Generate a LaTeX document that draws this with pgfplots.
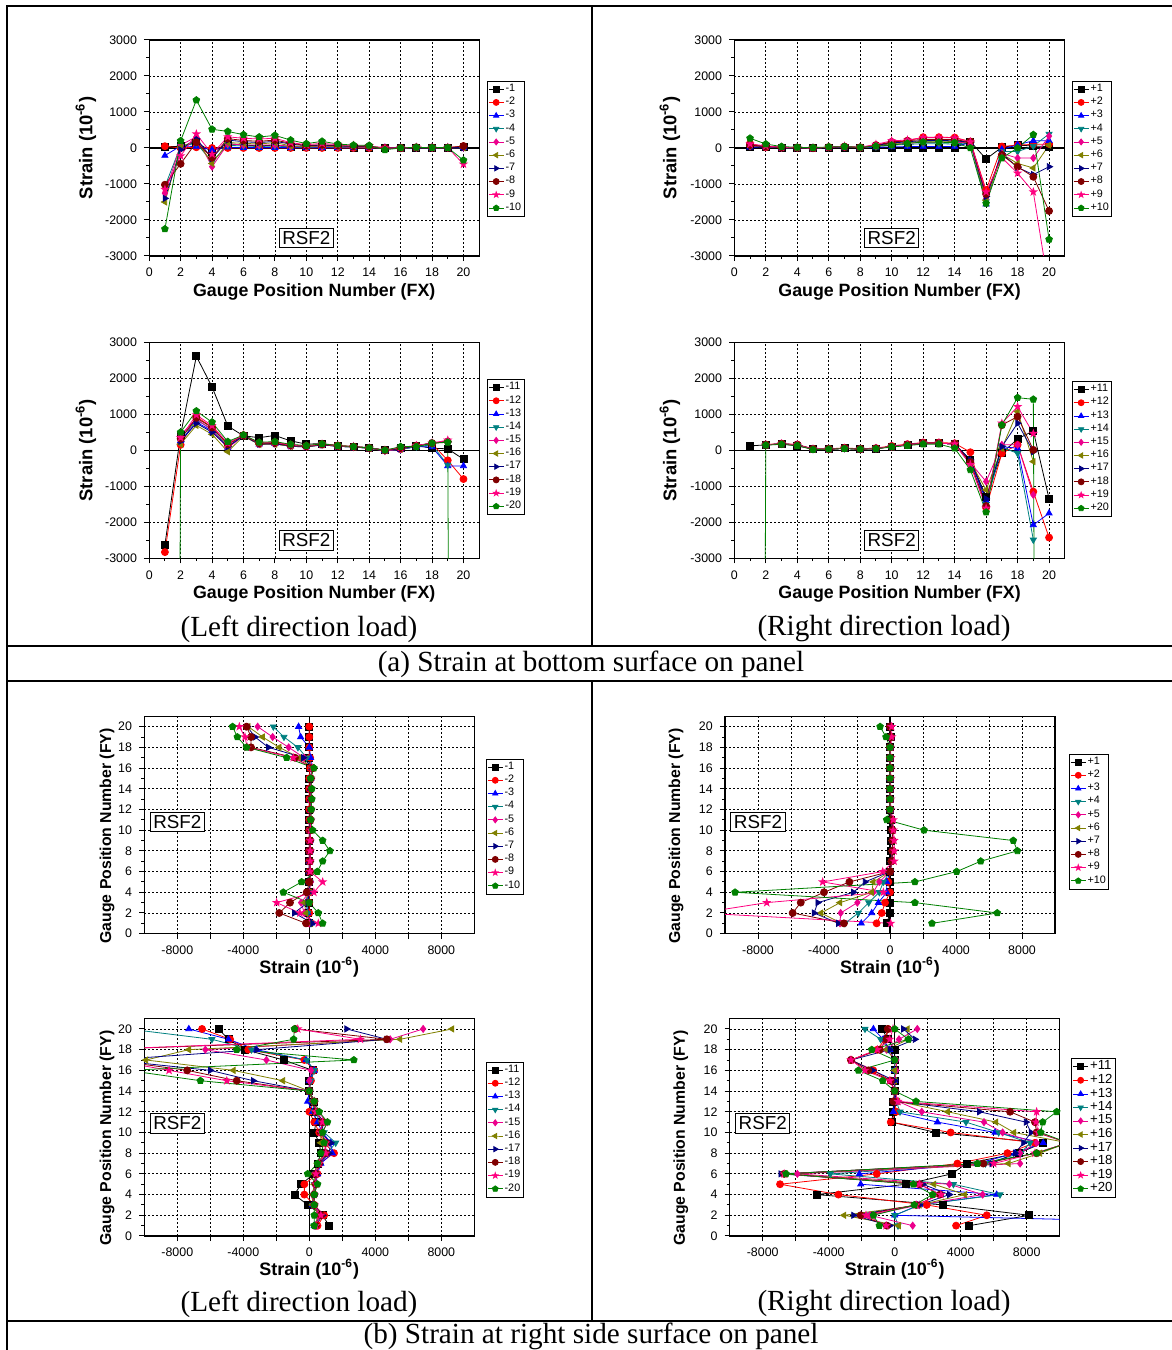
\documentclass[border=0pt]{standalone}
\usepackage{fontspec}
\setmainfont{Liberation Sans}
\newfontfamily\tnr{Liberation Serif}
\usepackage{pgfplots}
\pgfplotsset{compat=1.18}
\usepackage{pgfplotstable}
\usetikzlibrary{plotmarks}

\definecolor{navyc}{RGB}{0,0,128}
\definecolor{wine}{RGB}{128,0,0}
\definecolor{pinkc}{RGB}{255,0,128}
\definecolor{grn}{RGB}{0,128,0}
\definecolor{tealc}{RGB}{0,128,128}
\definecolor{olivec}{RGB}{128,128,0}

% filled five-point star
\pgfdeclareplotmark{fstar}{%
  \pgfpathmoveto{\pgfpointpolar{90}{1.4\pgfplotmarksize}}%
  \pgfpathlineto{\pgfpointpolar{126}{0.56\pgfplotmarksize}}%
  \pgfpathlineto{\pgfpointpolar{162}{1.4\pgfplotmarksize}}%
  \pgfpathlineto{\pgfpointpolar{198}{0.56\pgfplotmarksize}}%
  \pgfpathlineto{\pgfpointpolar{234}{1.4\pgfplotmarksize}}%
  \pgfpathlineto{\pgfpointpolar{270}{0.56\pgfplotmarksize}}%
  \pgfpathlineto{\pgfpointpolar{306}{1.4\pgfplotmarksize}}%
  \pgfpathlineto{\pgfpointpolar{342}{0.56\pgfplotmarksize}}%
  \pgfpathlineto{\pgfpointpolar{18}{1.4\pgfplotmarksize}}%
  \pgfpathlineto{\pgfpointpolar{54}{0.56\pgfplotmarksize}}%
  \pgfpathclose\pgfusepathqfill}

\pgfplotscreateplotcyclelist{strain}{
black,mark=square*\\
red,mark=*\\
blue,mark=triangle*\\
tealc,mark=triangle*,mark options={rotate=180}\\
magenta,mark=diamond*\\
olivec,mark=triangle*,mark options={rotate=90}\\
navyc,mark=triangle*,mark options={rotate=-90}\\
wine,mark=*\\
pinkc,mark=fstar\\
grn,mark=pentagon*\\
}

\tikzset{rsf/.style={draw=black,fill=white,line width=0.5pt,inner sep=1.6pt,font=\fontsize{9.4}{10}\selectfont}}

\pgfplotsset{
  base/.style={
    scale only axis, clip=true, scaled ticks=false,
    axis line style={black,line width=0.6pt},
    tick align=outside, xtick pos=bottom, ytick pos=left,
    tick style={black,line width=0.5pt},
    major tick length=2.6pt, minor tick length=1.5pt,
    grid=major,
    major grid style={black,line width=0.4pt,dash pattern=on 1pt off 1pt},
    ticklabel style={font=\fontsize{6.2}{7}\selectfont},
    cycle list name=strain,
    every axis plot/.append style={line width=0.4pt,mark size=1.75pt},
    legend cell align=left,
    legend style={font=\fontsize{5.4}{6}\selectfont,draw=black,anchor=north west,
      inner sep=0.6pt,row sep=-0.25pt,nodes={inner sep=0.8pt}},
    legend image code/.code={\draw[mark repeat=2,mark phase=2,mark size=1.5pt] plot coordinates {(0cm,0cm) (0.13cm,0cm) (0.26cm,0cm)};},
  },
  fx/.style={base, width=165pt, height=108pt,
    xmin=0, xmax=21, ymin=-3000, ymax=3000,
    xtick={0,2,...,20}, xticklabels={0,2,4,6,8,10,12,14,16,18,20},
    ytick={-3000,-2000,...,3000}, yticklabels={-3000,-2000,-1000,0,1000,2000,3000},
    minor x tick num=1, minor y tick num=1,
    extra y ticks={0}, extra y tick labels={},
    extra y tick style={major grid style={solid,black,line width=0.6pt}},
    xlabel={Gauge Position Number (FX)}, ylabel={Strain (10\textsuperscript{-6})},
    xlabel style={at={(axis description cs:0.5,-0.167)},anchor=center,font=\bfseries\fontsize{8.9}{10}\selectfont},
    ylabel style={at={(axis description cs:-0.192,0.5)},anchor=center,font=\bfseries\fontsize{9.2}{10}\selectfont},
  },
  fy/.style={base, width=165pt, height=108.7pt,
    xmin=-10000, xmax=10000, ymin=0, ymax=21,
    xtick={-8000,-6000,...,8000}, xticklabels={-8000,,-4000,,0,,4000,,8000},
    ytick={0,2,...,20}, yticklabels={0,2,4,6,8,10,12,14,16,18,20},
    minor y tick num=1,
    extra x ticks={0}, extra x tick labels={},
    extra x tick style={major grid style={solid,black,line width=0.6pt}},
    xlabel={Strain (10\textsuperscript{-6})}, ylabel={Gauge Position Number (FY)},
    xlabel style={at={(axis description cs:0.5,-0.153)},anchor=center,font=\bfseries\fontsize{9}{10}\selectfont},
    ylabel style={font=\bfseries\fontsize{7.9}{9}\selectfont},
  },
}

% ---------- (a) bottom surface, FX gauges ----------
\pgfplotstableread{
x m1 m2 m3 m4 m5 m6 m7 m8 m9 m10
1 30 50 -210 -1070 -1260 -1500 -1400 -1020 -1150 -2250
2 50 0 55 55 80 20 -50 -440 -220 200
3 150 20 40 130 310 220 260 160 390 1330
4 -100 0 -50 -380 -520 -430 -290 -270 -170 520
5 120 0 20 75 110 150 220 260 310 460
6 80 0 10 55 90 130 175 210 270 370
7 60 0 10 40 75 110 150 185 250 305
8 80 0 10 55 90 150 185 220 270 350
9 40 0 10 30 40 60 110 130 150 220
10 20 0 10 20 30 40 60 70 90 120
11 30 0 10 30 40 60 80 90 130 185
12 20 0 10 20 30 40 60 70 90 110
13 10 0 10 20 20 30 40 50 70 80
14 10 0 10 20 20 30 40 50 55 70
15 0 0 10 0 0 0 0 0 0 -50
16 0 0 0 0 0 0 0 0 0 0
17 10 10 10 10 10 10 10 20 20 20
18 0 10 10 10 10 10 10 10 10 10
19 0 10 10 10 10 10 10 10 10 10
20 20 50 10 10 10 10 10 55 -450 -340
}\TLa

\pgfplotstableread{
x m1 m2 m3 m4 m5 m6 m7 m8 m9 m10
1 -2630 -2830 nan nan nan nan nan nan nan -100000
2 430 150 260 330 430 170 250 320 350 500
3 2610 935 780 840 870 690 750 900 980 1090
4 1760 640 540 590 560 445 500 630 685 780
5 675 150 75 100 60 -40 100 170 195 240
6 400 420 400 410 410 390 400 410 420 425
7 350 195 170 180 170 160 170 190 200 220
8 410 220 180 190 180 170 180 200 220 240
9 260 150 110 120 120 110 120 130 140 165
10 170 120 90 100 100 90 100 110 110 130
11 185 170 150 160 160 150 150 160 170 175
12 130 130 110 110 120 110 110 120 120 130
13 100 100 90 90 90 90 90 100 100 100
14 75 60 55 60 60 55 60 65 65 65
15 0 0 -10 -10 -20 0 0 0 0 0
16 55 30 20 20 30 40 40 60 80 100
17 130 120 100 100 120 120 120 130 130 100
18 55 180 90 150 200 190 200 200 200 195
19 40 -280 -435 -410 260 240 230 240 280 220
20 -250 -800 -435 nan nan nan nan nan nan -100000
}\TLb

\pgfplotstableread{
x m1 m2 m3 m4 m5 m6 m7 m8 m9 m10
1 40 130 20 60 50 60 70 80 110 270
2 20 20 30 40 30 40 40 50 60 110
3 0 10 10 10 10 10 10 20 20 40
4 10 10 10 10 10 10 10 10 10 20
5 0 0 0 0 0 0 0 0 0 10
6 10 20 10 20 20 20 20 20 20 30
7 10 30 20 30 30 30 30 40 50 40
8 10 20 10 10 10 10 10 10 20 20
9 10 80 20 40 50 60 70 80 100 50
10 10 150 30 80 100 120 140 170 200 80
11 10 200 40 100 130 150 170 200 220 130
12 10 300 40 120 160 190 210 240 290 165
13 0 300 40 120 160 190 210 240 290 160
14 10 290 40 110 150 180 200 230 280 150
15 180 180 150 150 150 160 160 170 170 0
16 -305 -1170 -1560 -1490 -1400 -1450 -1350 -1280 -1220 -1540
17 20 40 -40 -100 -150 -170 -150 -195 -270 -280
18 80 80 90 -100 -280 -430 -540 -520 -700 0
19 55 100 200 55 -280 -555 -740 -800 -1220 370
20 40 110 200 390 330 80 -520 -1750 -3950 -2540
}\TRa

\pgfplotstableread{
x m1 m2 m3 m4 m5 m6 m7 m8 m9 m10
1 120 nan nan nan nan nan nan nan nan -100000
2 150 160 150 150 150 150 150 150 150 140
3 175 185 175 175 175 175 175 175 175 165
4 120 160 150 150 150 150 150 150 150 130
5 30 40 30 30 30 30 30 30 30 20
6 30 40 30 30 30 30 30 30 30 30
7 55 65 55 55 55 55 55 55 55 45
8 30 40 30 30 30 30 30 30 30 30
9 50 60 50 50 50 50 50 50 50 40
10 100 120 100 100 100 100 100 100 100 90
11 150 170 150 150 150 150 150 150 150 130
12 195 215 195 195 195 195 195 195 195 170
13 195 215 195 195 195 195 195 195 195 170
14 175 195 175 175 175 175 175 175 175 55
15 -270 -55 -300 -390 -350 -330 -270 -330 -400 -545
16 -1290 -1600 -1400 -1500 -870 -1100 -1350 -1550 -1610 -1720
17 -85 -85 100 80 150 55 100 700 750 700
18 315 150 55 -85 150 1075 750 935 1210 1460
19 537 -1150 -2075 -2490 -1240 -315 -40 10 465 1415
20 -1350 -2425 -1750 nan nan nan nan nan nan -100000
}\TRb

% ---------- (b) right side surface, FY gauges ----------
\pgfplotstableread{
pos m1 m2 m3 m4 m5 m6 m7 m8 m9 m10
20 0 0 -650 -2180 -3130 -3700 -3760 -3800 -4240 -4650
19 0 0 -525 -1535 -2220 -2830 -3290 -3530 -3900 -4360
18 0 0 0 -690 -1250 -1820 -2480 -3530 -3760 -3800
17 0 50 80 -160 -320 -600 -360 -870 -970 -1370
16 50 50 150 150 150 200 200 200 200 280
15 0 0 100 100 100 100 100 100 100 80
14 0 0 80 100 100 100 100 100 100 150
13 0 0 80 100 100 100 100 100 100 150
12 0 0 80 80 100 100 100 100 100 120
11 0 0 50 80 80 80 80 80 80 80
10 0 0 50 50 80 80 80 80 80 200
9 0 0 50 50 50 50 50 50 50 810
8 0 0 50 50 50 50 50 50 50 1250
7 0 0 0 50 50 50 50 50 50 810
6 0 0 0 0 50 50 50 50 50 485
5 0 0 0 50 100 0 0 0 810 -465
4 0 0 0 0 0 0 0 -160 280 -1575
3 0 0 -200 -100 -500 -300 -100 -1170 -1980 0
2 -100 0 -100 -100 -300 -200 -910 -1820 -570 545
1 0 0 140 100 0 100 200 -200 545 810
}\BLa

\pgfplotstableread{
pos m1 m2 m3 m4 m5 m6 m7 m8 m9 m10
20 -5500 -6500 -7300 -11000 6900 8650 2260 -850 -700 -900
19 -4900 -4800 -4900 -5900 4900 5500 4700 4700 3100 -950
18 -3900 -3700 -3200 -3500 -6300 -7300 -3200 -13000 -13000 -4400
17 -1550 -300 -200 -150 -2600 -9900 -12000 -12000 -12000 2700
16 200 300 300 300 100 -4600 -6000 -7400 -8500 -11000
15 0 100 0 100 0 -1600 -3400 -4400 -5000 -6600
14 0 0 0 0 0 0 0 0 0 0
13 300 300 -100 200 200 200 300 300 300 300
12 300 0 200 300 500 400 400 400 400 600
11 400 300 500 700 1100 800 900 800 800 1100
10 300 600 800 900 800 700 700 700 700 800
9 600 900 1300 1600 1000 700 1300 1000 1000 900
8 700 1500 1400 1100 900 900 1200 1000 1000 700
7 500 600 700 600 600 500 600 600 600 500
6 300 500 500 400 400 300 400 400 400 -100
5 -500 -300 400 300 300 300 400 400 400 500
4 -900 -300 300 300 200 200 300 300 300 300
3 -100 300 200 200 300 200 300 300 300 300
2 800 900 700 600 500 600 800 700 700 300
1 1200 500 300 300 400 300 400 400 400 300
}\BLb

\pgfplotstableread{
pos m1 m2 m3 m4 m5 m6 m7 m8 m9 m10
20 0 0 0 0 0 0 0 0 100 -600
19 50 50 50 50 50 50 50 50 100 -240
18 0 0 0 0 0 0 0 0 50 0
17 0 0 0 0 0 0 0 0 50 0
16 0 0 0 0 0 0 0 0 50 0
15 0 0 0 0 0 0 0 0 50 0
14 0 0 0 0 0 0 0 0 50 0
13 0 0 0 0 0 0 0 0 50 0
12 0 0 0 0 0 0 0 0 50 0
11 50 100 100 100 100 100 100 100 200 -200
10 50 150 150 150 150 150 150 150 200 2060
9 50 150 150 150 150 150 150 150 250 7470
8 50 150 150 150 150 150 150 150 250 7720
7 0 100 100 100 100 100 100 100 250 5500
6 0 0 0 0 0 0 0 0 -440 4040
5 0 -100 -200 -400 -650 -1010 -1515 -2460 -4080 1510
4 0 0 -200 -650 -1010 -1110 -2220 -4000 -400 -9390
3 0 -300 -700 -1290 -1980 -3030 -4380 -5410 -7470 1510
2 0 -500 -1110 -1920 -2990 -4180 -4600 -5900 -11500 6500
1 -200 -810 -1740 -2730 -3030 -2930 -3130 -2790 40 2545
}\BRa

\pgfplotstableread{
pos m1 m2 m3 m4 m5 m6 m7 m8 m9 m10
20 -750 -400 -1290 -1800 1370 770 525 -420 -100 0
19 -440 -600 -700 -850 260 830 1230 -500 -300 830
18 0 -1050 -300 -320 -500 -500 -300 -900 -1050 -1390
17 0 -2650 0 0 100 0 -2650 -2650 -2650 0
16 0 -1300 0 0 100 0 -1330 -1600 -1800 -2200
15 0 -240 0 0 0 0 0 -240 -300 -730
14 0 0 0 0 0 0 0 0 0 0
13 -80 0 0 100 200 200 100 -80 200 1290
12 -80 100 -80 320 1640 3210 5130 6990 8600 9820
11 -200 -240 2590 4320 5410 6140 7960 8500 8560 8970
10 2500 3390 6080 6300 6540 7230 8260 8600 8700 8850
9 9000 8500 9000 8200 8600 10500 7800 10500 10500 10500
8 7500 6830 7290 7640 7600 8800 7300 8600 8500 8600
7 4360 3800 5000 5500 7600 6890 5880 5370 6000 5010
6 3450 -1090 -2140 -3900 -5900 -6600 -6910 -6700 -6700 -6590
5 690 -6950 -2060 3560 3310 2380 1700 1500 1500 1130
4 -4730 -3410 6180 6380 5330 4260 3310 2750 2800 2300
3 2950 1940 1500 1500 1500 1500 1500 1300 1300 1190
2 8160 5580 0 0 -1500 -3070 -2500 -2060 -1740 -1290
1 4520 3720 26000 200 1090 240 -300 -480 -520 -930
}\BRb

\begin{document}
\begin{tikzpicture}
\useasboundingbox (0,0) rectangle (586pt,675pt);

% top left, upper
\begin{axis}[fx, at={(74.6pt,547pt)}, anchor=south west, legend style={at={(1.023,0.811)}}]
\pgfplotsinvokeforeach{1,...,10}{\addplot table[x=x,y=m#1]{\TLa};}
\legend{-1,-2,-3,-4,-5,-6,-7,-8,-9,-10}
\node[rsf] at (axis cs:10,-2500) {RSF2};
\end{axis}

% top left, lower
\begin{axis}[fx, at={(74.6pt,395.85pt)}, anchor=south west, legend style={at={(1.023,0.829)}}]
\pgfplotsinvokeforeach{1,...,10}{\addplot table[x=x,y=m#1]{\TLb};}
\legend{-11,-12,-13,-14,-15,-16,-17,-18,-19,-20}
\node[rsf] at (axis cs:10,-2500) {RSF2};
\end{axis}

% top right, upper
\begin{axis}[fx, width=165.25pt, at={(367.15pt,547pt)}, anchor=south west, legend style={at={(1.021,0.811)}},
  ylabel style={at={(axis description cs:-0.195,0.5)}}]
\pgfplotsinvokeforeach{1,...,10}{\addplot table[x=x,y=m#1]{\TRa};}
\legend{+1,+2,+3,+4,+5,+6,+7,+8,+9,+10}
\node[rsf] at (axis cs:10,-2500) {RSF2};
\end{axis}

% top right, lower
\begin{axis}[fx, width=165.25pt, at={(367.15pt,395.85pt)}, anchor=south west, legend style={at={(1.021,0.82)}},
  ylabel style={at={(axis description cs:-0.195,0.5)}}]
\pgfplotsinvokeforeach{1,...,10}{\addplot table[x=x,y=m#1]{\TRb};}
\legend{+11,+12,+13,+14,+15,+16,+17,+18,+19,+20}
\node[rsf] at (axis cs:10,-2500) {RSF2};
\end{axis}

% bottom left, upper
\begin{axis}[fy, at={(72.15pt,208.15pt)}, anchor=south west, legend style={at={(1.035,0.805)}},
  ylabel style={at={(axis description cs:-0.113,0.45)},anchor=center}]
\pgfplotsinvokeforeach{1,...,10}{\addplot table[x=m#1,y=pos]{\BLa};}
\legend{-1,-2,-3,-4,-5,-6,-7,-8,-9,-10}
\node[rsf] at (axis cs:-8000,10.8) {RSF2};
\end{axis}

% bottom left, lower
\begin{axis}[fy, at={(72.15pt,57pt)}, anchor=south west, legend style={at={(1.035,0.802)}},
  ylabel style={at={(axis description cs:-0.113,0.45)},anchor=center}]
\pgfplotsinvokeforeach{1,...,10}{\addplot table[x=m#1,y=pos]{\BLb};}
\legend{-11,-12,-13,-14,-15,-16,-17,-18,-19,-20}
\node[rsf] at (axis cs:-8000,10.9) {RSF2};
\end{axis}

% bottom right, upper
\begin{axis}[fy, at={(362.5pt,208.15pt)}, anchor=south west, legend style={at={(1.042,0.828)}},
  ylabel style={at={(axis description cs:-0.148,0.45)},anchor=center}]
\pgfplotsinvokeforeach{1,...,10}{\addplot table[x=m#1,y=pos]{\BRa};}
\legend{+1,+2,+3,+4,+5,+6,+7,+8,+9,+10}
\node[rsf] at (axis cs:-8000,10.8) {RSF2};
\end{axis}

% bottom right, lower
\begin{axis}[fy, at={(364.85pt,57pt)}, anchor=south west,
  legend style={at={(1.035,0.821)},font=\fontsize{6.6}{7}\selectfont,row sep=-0.9pt},
  ylabel style={at={(axis description cs:-0.148,0.45)},anchor=center}]
\pgfplotsinvokeforeach{1,...,10}{\addplot table[x=m#1,y=pos]{\BRb};}
\legend{+11,+12,+13,+14,+15,+16,+17,+18,+19,+20}
\node[rsf] at (axis cs:-8000,10.9) {RSF2};
\end{axis}

% table frame
\draw[line width=1pt] (3.5pt,-2pt) -- (3.5pt,671.75pt) -- (590pt,671.75pt);
\draw[line width=1pt] (295.85pt,671.75pt) -- (295.85pt,352.15pt);
\draw[line width=1pt] (3.5pt,352.15pt) -- (590pt,352.15pt);
\draw[line width=1pt] (3.5pt,334.5pt) -- (590pt,334.5pt);
\draw[line width=1pt] (295.85pt,334.5pt) -- (295.85pt,14.5pt);
\draw[line width=1pt] (3.5pt,14.5pt) -- (590pt,14.5pt);

% captions
\begin{scope}[every node/.style={font=\tnr\fontsize{14.6}{16}\selectfont,inner sep=0pt}]
\node at (149.5pt,360.5pt) {(Left direction load)};
\node at (442pt,360.5pt) {(Right direction load)};
\node at (295.5pt,343pt) {(a) Strain at bottom surface on panel};
\node at (149.5pt,23pt) {(Left direction load)};
\node at (442pt,23pt) {(Right direction load)};
\node at (295.5pt,7pt) {(b) Strain at right side surface on panel};
\end{scope}
\end{tikzpicture}
\end{document}
